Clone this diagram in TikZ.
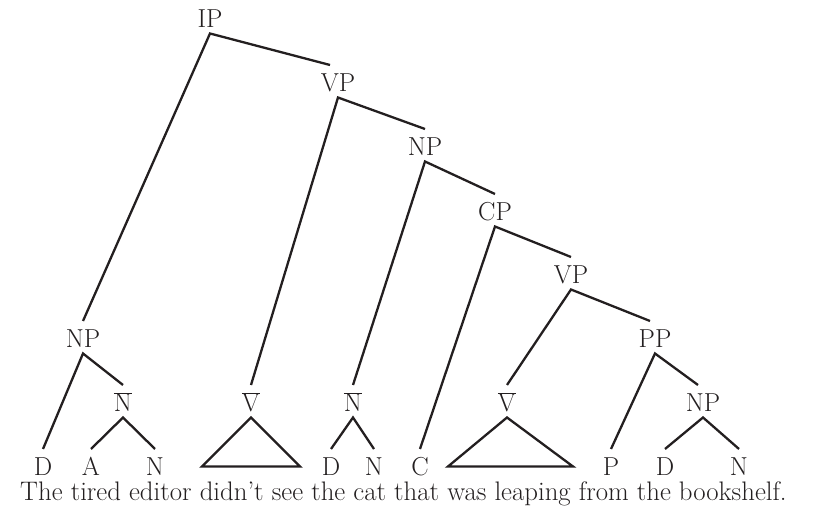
\documentclass[tikz,border=0pt]{standalone}
\usetikzlibrary{calc}
\definecolor{ink}{HTML}{231F20}
\begin{document}
\begin{tikzpicture}[x=1pt,y=-1pt,
  cat/.style={inner sep=0pt, outer ysep=5.5pt, anchor=base, text height=21.5pt, text depth=0pt,
    font=\fontsize{26}{30}\selectfont, text=ink},
  branch/.style={draw=ink, line width=2.3pt, line join=miter},
  sent/.style={inner sep=0pt, anchor=base west, font=\fontsize{26.8}{30}\selectfont, text=ink}]
\useasboundingbox (0,0) rectangle (820,510);
% phrase nodes
\node[cat] (IP)  at (210,28) {IP};
\node[cat] (VP1) at (338,92) {VP};
\node[cat] (NP1) at (425,156) {NP};
\node[cat] (CP)  at (495,221) {CP};
\node[cat] (VP2) at (571,284) {VP};
\node[cat] (PP)  at (655,348) {PP};
\node[cat] (NP2) at (83,348) {NP};
\node[cat] (Nb1) at (123,412) {$\overline{\mbox{N}}$};
\node[cat] (Vb1) at (251,412) {$\overline{\mbox{V}}$};
\node[cat] (Nb2) at (353,412) {$\overline{\mbox{N}}$};
\node[cat] (Vb2) at (507,412) {$\overline{\mbox{V}}$};
\node[cat] (NP3) at (703,412) {NP};
% leaves
\node[cat] (D1) at (43,476) {D};
\node[cat] (A1) at (91,476) {A};
\node[cat] (N1) at (155,476) {N};
\node[cat] (D2) at (331,476) {D};
\node[cat] (N2) at (374,476) {N};
\node[cat] (C1) at (420,476) {C};
\node[cat] (P1) at (611,476) {P};
\node[cat] (D3) at (665,476) {D};
\node[cat] (N3) at (739,476) {N};
% sentence
\node[sent] (S) at (20,501) {The tired editor didn’t see the cat that was leaping from the bookshelf.};
% branches
\draw[branch] (NP2.north) -- (IP.south) -- ($(VP1.north)+(-8,0)$);
\draw[branch] (Vb1.north) -- (VP1.south) -- (NP1.north);
\draw[branch] (Nb2.north) -- (NP1.south) -- (CP.north);
\draw[branch] (C1.north) -- (CP.south) -- (VP2.north);
\draw[branch] (Vb2.north) -- (VP2.south) -- ($(PP.north)+(-5,0)$);
\draw[branch] (P1.north) -- (PP.south) -- ($(NP3.north)+(-5,0)$);
\draw[branch] (D1.north) -- (NP2.south) -- (Nb1.north);
\draw[branch] (A1.north) -- (Nb1.south) -- (N1.north);
\draw[branch] (D2.north) -- (Nb2.south) -- (N2.north);
\draw[branch] (D3.north) -- (NP3.south) -- (N3.north);
% triangles
\draw[branch] (Vb1.south) -- ++(-49,49) -- ++(98,0) -- cycle;
\draw[branch] (Vb2.south) -- ++(-59,49) -- ++(125,0) -- cycle;
\end{tikzpicture}
\end{document}
